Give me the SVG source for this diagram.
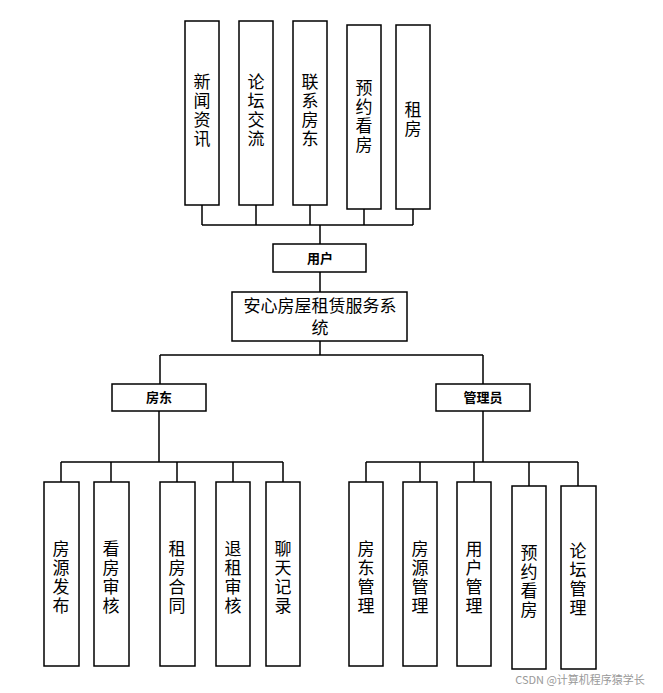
<svg xmlns="http://www.w3.org/2000/svg" width="663" height="693" viewBox="0 0 663 693">
<style>
rect{fill:#fff;stroke:#000;stroke-width:1.5}
.c path{fill:none;stroke:#000;stroke-width:1.5}
text{font-family:"Noto Sans CJK SC","Liberation Sans",sans-serif;fill:#000;text-anchor:middle}
.v{font-size:17px;writing-mode:vertical-rl;letter-spacing:2px}
.b{font-size:13px;font-weight:bold}
</style>
<rect width="663" height="693" style="fill:#fff;stroke:none"/>
<g class="c">
<path d="M202 205V225M256 205V225M310 205V225M364 209V225M413 209V225M202 225H413M320 225V244M320 272V292M320 341V355M160 355H483M160 355V384M483 355V384M159 411V462M61 462H283M61 462V482M111 462V482M177 462V482M233 462V482M283 462V482M483 411V462M366 462H578M366 462V482M420 462V482M474 462V482M529 462V486M578 462V486"/>
</g>
<g id="n1"><rect x="185" y="21" width="34" height="184"/><text class="v" x="202" y="111">新闻资讯</text></g>
<g id="n2"><rect x="239" y="21" width="34" height="184"/><text class="v" x="256" y="111">论坛交流</text></g>
<g id="n3"><rect x="293" y="21" width="34" height="184"/><text class="v" x="310" y="111">联系房东</text></g>
<g id="n4"><rect x="347" y="25" width="34" height="184"/><text class="v" x="364" y="117">预约看房</text></g>
<g id="n5"><rect x="396" y="25" width="34" height="184"/><text class="v" x="413" y="120">租房</text></g>
<g id="user"><rect x="273" y="244" width="93" height="28"/><text class="b" x="320" y="263">用户</text></g>
<g id="sys"><rect x="232" y="292" width="175" height="49"/><text style="font-size:17px"><tspan x="320" y="312">安心房屋租赁服务系</tspan><tspan x="320" y="334">统</tspan></text></g>
<g id="landlord"><rect x="112" y="384" width="94" height="27"/><text class="b" x="159" y="402">房东</text></g>
<g id="admin"><rect x="436" y="384" width="94" height="27"/><text class="b" x="483" y="402">管理员</text></g>
<g id="l1"><rect x="44" y="482" width="35" height="184"/><text class="v" x="61" y="578">房源发布</text></g>
<g id="l2"><rect x="94" y="482" width="35" height="184"/><text class="v" x="111" y="578">看房审核</text></g>
<g id="l3"><rect x="160" y="482" width="35" height="184"/><text class="v" x="177" y="578">租房合同</text></g>
<g id="l4"><rect x="216" y="482" width="34" height="184"/><text class="v" x="233" y="578">退租审核</text></g>
<g id="l5"><rect x="266" y="482" width="34" height="184"/><text class="v" x="283" y="578">聊天记录</text></g>
<g id="a1"><rect x="349" y="482" width="34" height="184"/><text class="v" x="366" y="578">房东管理</text></g>
<g id="a2"><rect x="403" y="482" width="34" height="184"/><text class="v" x="420" y="578">房源管理</text></g>
<g id="a3"><rect x="457" y="482" width="34" height="184"/><text class="v" x="474" y="578">用户管理</text></g>
<g id="a4"><rect x="512" y="486" width="34" height="183"/><text class="v" x="529" y="582">预约看房</text></g>
<g id="a5"><rect x="561" y="486" width="35" height="183"/><text class="v" x="578" y="580">论坛管理</text></g>
<text x="580" y="684" style="font-size:11px;fill:#999">CSDN @计算机程序猿学长</text>
</svg>
